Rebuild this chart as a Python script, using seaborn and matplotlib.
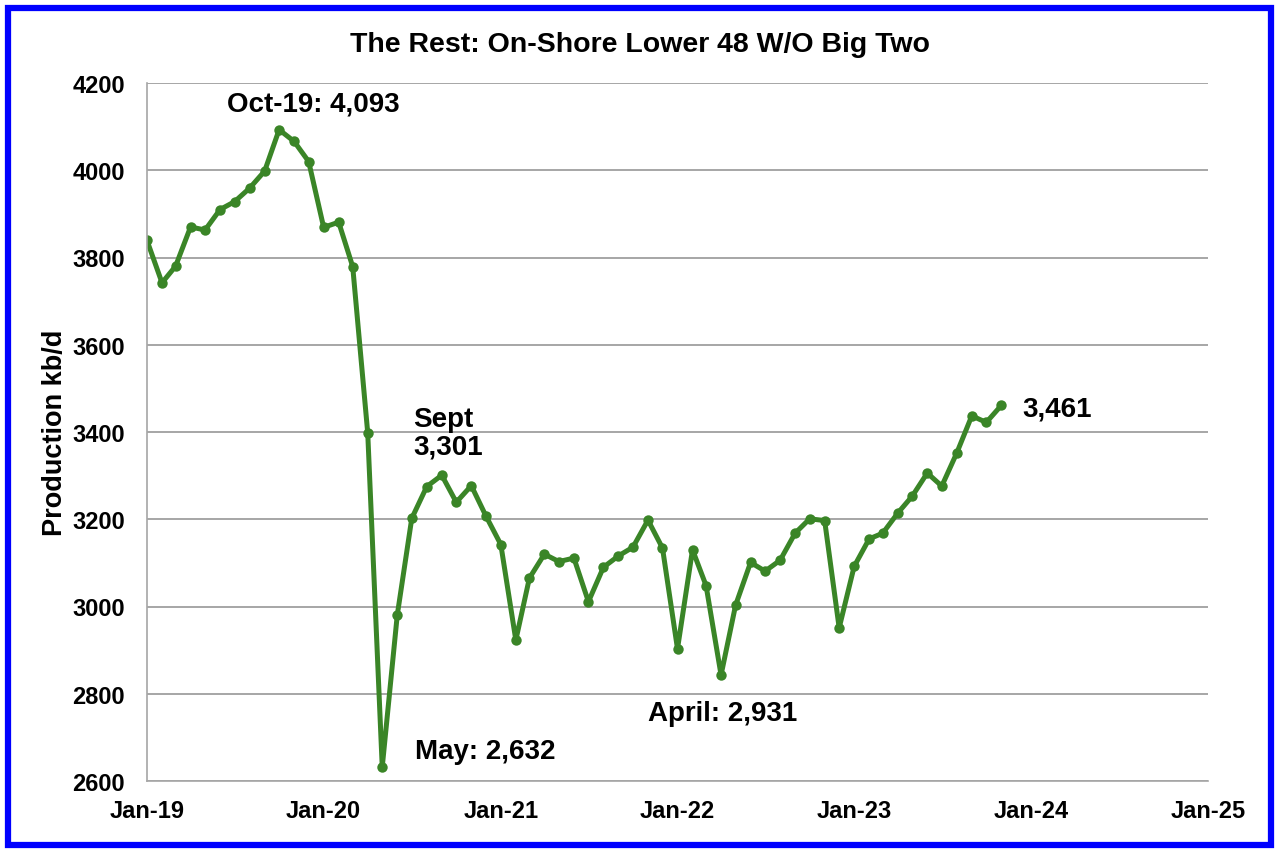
import matplotlib
matplotlib.use("Agg")
import matplotlib.pyplot as plt
import matplotlib.dates as mdates
from matplotlib.patches import Rectangle
import seaborn as sns
import pandas as pd

# ---- data ----
start_month = "2019-01-01"
production = [
    3839, 3742, 3780, 3870, 3863, 3910, 3928, 3959, 3998, 4093, 4066, 4020,   # 2019
    3869, 3881, 3779, 3398, 2632, 2980, 3202, 3275, 3301, 3239, 3277, 3208,   # 2020
    3142, 2923, 3065, 3120, 3103, 3111, 3011, 3090, 3116, 3136, 3198, 3134,   # 2021
    2903, 3130, 3048, 2843, 3003, 3101, 3081, 3106, 3168, 3201, 3197, 2951,   # 2022
    3092, 3155, 3168, 3214, 3253, 3306, 3276, 3352, 3437, 3422, 3461,         # 2023
]
dates = pd.date_range(start_month, periods=len(production), freq="MS")
df = pd.DataFrame({"date": dates, "production": production})

title = "The Rest: On-Shore Lower 48 W/O Big Two"
ylabel = "Production kb/d"
yticks = [2600, 2800, 3000, 3200, 3400, 3600, 3800, 4000, 4200]
xtick_years = [2019, 2020, 2021, 2022, 2023, 2024, 2025]
annotations = [
    ("Oct-19: 4,093", 0.1565, 0.970, "center"),
    ("Sept\n3,301", 0.2507, 0.4986, "left"),
    ("May: 2,632", 0.2526, 0.043, "left"),
    ("April: 2,931", 0.472, 0.0974, "left"),
    ("3,461", 0.8247, 0.533, "left"),
]

# ---- style ----
sns.set_style("white")
plt.rcParams["font.family"] = ["Liberation Sans", "DejaVu Sans"]
plt.rcParams["font.weight"] = "bold"
plt.rcParams["text.color"] = "black"
plt.rcParams["axes.labelcolor"] = "black"
plt.rcParams["xtick.labelcolor"] = "black"
plt.rcParams["ytick.labelcolor"] = "black"

fig = plt.figure(figsize=(12.8, 8.54), dpi=100)
ax = fig.add_axes([147 / 1280, 72 / 854, 1061 / 1280, 698 / 854])

green = "#3A8527"
sns.lineplot(data=df, x="date", y="production", ax=ax, color=green,
             linewidth=3.6, marker="o", markersize=7.5, markeredgewidth=0,
             markerfacecolor=green)

ax.set_ylim(2600, 4200)
ax.set_yticks(yticks)
ax.set_xlim(pd.Timestamp("2019-01-01"), pd.Timestamp("2025-01-01"))
ax.set_xticks([pd.Timestamp(f"{y}-01-01") for y in xtick_years])
ax.xaxis.set_major_formatter(mdates.DateFormatter("%b-%y"))

ax.yaxis.grid(True, color="#A6A6A6", linewidth=1.4)
ax.xaxis.grid(False)
for s in ["top", "right"]:
    ax.spines[s].set_visible(False)
for s in ["left", "bottom"]:
    ax.spines[s].set_color("#A6A6A6")
    ax.spines[s].set_linewidth(1.2)

ax.tick_params(axis="x", direction="in", length=7, width=1.2, color="#A6A6A6",
               pad=13, labelsize=17, labelcolor="black")
ax.tick_params(axis="y", length=0, pad=16, labelsize=17, labelcolor="black")
for lab in ax.get_xticklabels() + ax.get_yticklabels():
    lab.set_fontweight("bold")

ax.set_xlabel("")
ax.set_ylabel(ylabel, fontsize=19.5, fontweight="bold", labelpad=3,
              color="black")
fig.text(0.5, 0.947, title, ha="center", va="center", fontsize=20.5,
         fontweight="bold", color="black")

for text, x, y, ha in annotations:
    ax.text(x, y, text, transform=ax.transAxes, ha=ha, va="center",
            fontsize=20, fontweight="bold", linespacing=1.05, color="black")

fig.patches.append(Rectangle((8 / 1280, 8 / 854), 1263 / 1280, 837 / 854,
                             transform=fig.transFigure, fill=False,
                             edgecolor="#0000FF", linewidth=4.5, zorder=10))

fig.savefig("out.png", dpi=100)
